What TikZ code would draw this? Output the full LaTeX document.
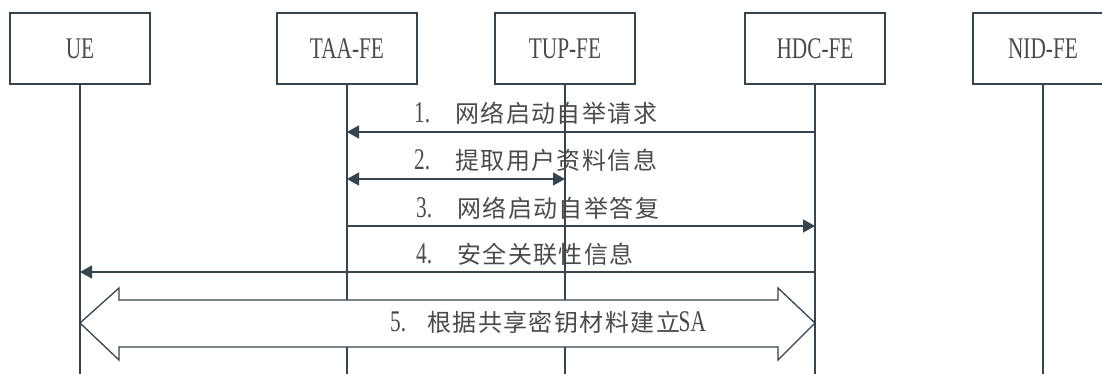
\documentclass[tikz,border=0pt]{standalone}
\usepackage{fontspec}
\usetikzlibrary{arrows.meta}
\newfontfamily\cjkf[LetterSpace=6]{Noto Sans CJK SC}
\newfontfamily\latf[FakeStretch=0.71]{Liberation Serif}
\definecolor{lc}{HTML}{37434D}
\definecolor{tc}{HTML}{4A4A4A}
\newcommand{\lt}[1]{{\fontsize{30pt}{30pt}\latf #1}}
\newcommand{\ct}[1]{{\fontsize{24pt}{28pt}\cjkf #1}}
\newcommand{\msgtext}[3][41pt]{\hbox to #1{\lt{#2}\hfil}\ct{#3}}
\tikzset{
  x=1pt, y=-1pt,
  entity/.style={draw=lc, line width=1.8pt, minimum width=140pt, minimum height=71pt, inner sep=0pt, text=tc, font=\fontsize{30pt}{30pt}\latf},
  life/.style={draw=lc, line width=1.6pt},
  msg/.style={draw=lc, line width=1.6pt, -{Triangle[length=12pt,width=13pt]}},
  dmsg/.style={draw=lc, line width=1.6pt, {Triangle[length=12pt,width=13pt]}-{Triangle[length=12pt,width=13pt]}},
  lbl/.style={inner sep=0pt, text=tc, anchor=base west},
  bigarrow/.style={draw=lc, line width=1.3pt, fill=white, line join=miter}
}
\begin{document}
\begin{tikzpicture}
\useasboundingbox (0,0) rectangle (1102,374);
% entities
\node[entity] (ue)  at (80,48.5)  {UE};
\node[entity] (taa) at (347,48.5) {TAA-FE};
\node[entity] (tup) at (565,48.5) {TUP-FE};
\node[entity] (hdc) at (815,48.5) {HDC-FE};
\node[entity] (nid) at (1043,48.5) {NID-FE};
% bottom coordinate and message rows
\coordinate (bot) at (0,374);
\coordinate (m1) at (0,132);
\coordinate (m2) at (0,179);
\coordinate (m3) at (0,226);
\coordinate (m4) at (0,272);
% lifelines
\foreach \e in {ue,taa,tup,hdc,nid}{
  \draw[life] (\e.south) -- (\e.south |- bot);
}
% messages
\draw[msg]  (hdc |- m1) -- (taa |- m1);
\draw[dmsg] (taa |- m2) -- (tup |- m2);
\draw[msg]  (taa |- m3) -- (hdc |- m3);
\draw[msg]  (hdc |- m4) -- (ue |- m4);
\node[lbl] (t1) at (414,123) {\msgtext{1.}{网络启动自举请求}};
\node[lbl] (t2) at (414,170) {\msgtext{2.}{提取用户资料信息}};
\node[lbl] (t3) at (416,217) {\msgtext{3.}{网络启动自举答复}};
\node[lbl] (t4) at (416,263) {\msgtext{4.}{安全关联性信息}};
% big double arrow
\coordinate (lt) at (ue |- 0,323);
\coordinate (rt) at (hdc |- 0,323);
\path[bigarrow] (lt) -- (119,288) -- (119,300) -- (778,300) -- (778,288) -- (rt)
  -- (778,360) -- (778,347) -- (119,347) -- (119,360) -- cycle;
\node[lbl] (t5) at (390,331) {\msgtext[37pt]{5.}{根据共享密钥材料建立}\hspace{-1.5pt}\lt{SA}};
\end{tikzpicture}
\end{document}
